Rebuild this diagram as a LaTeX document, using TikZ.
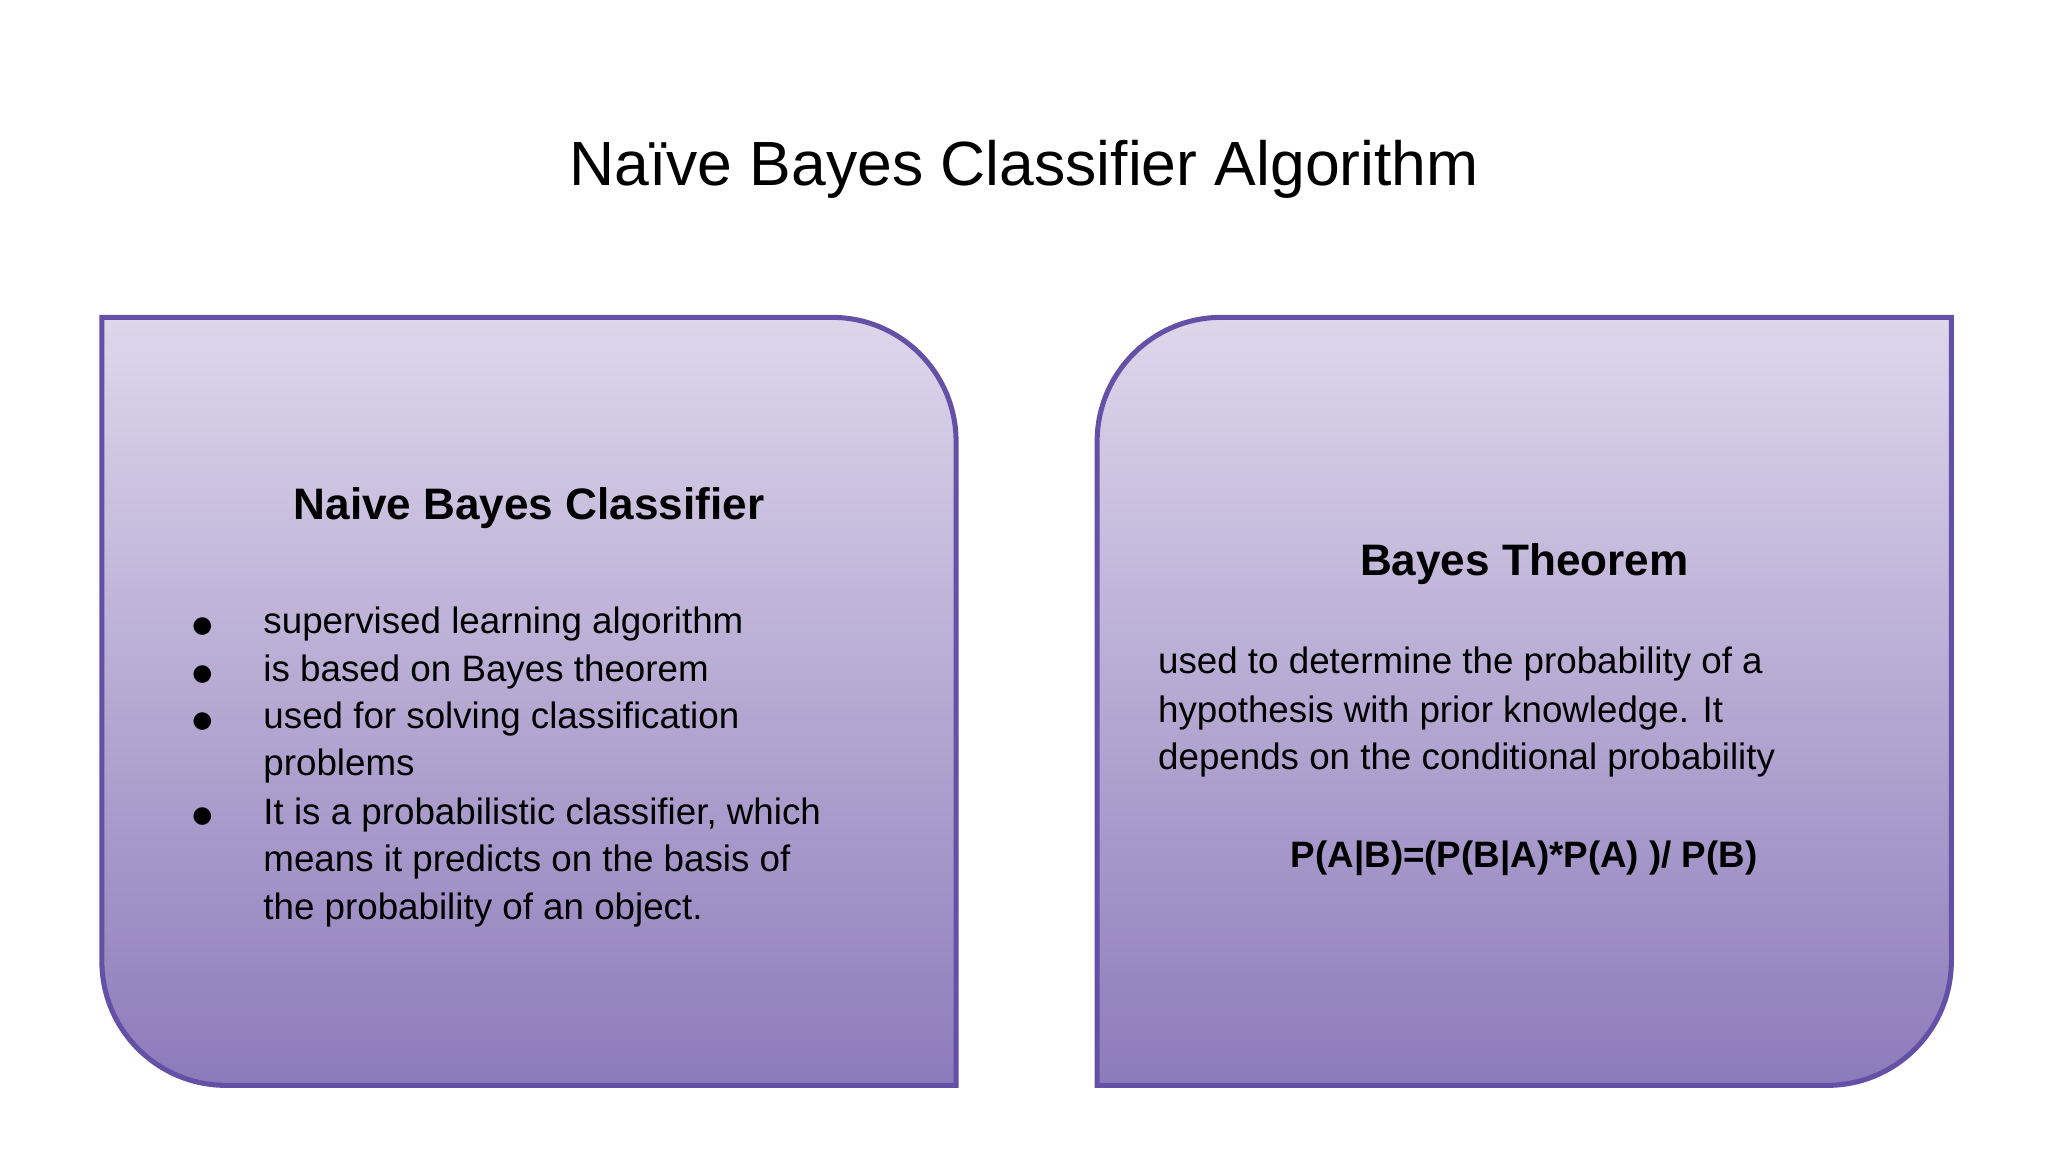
\documentclass[tikz,border=0pt]{standalone}
\usepackage{fontspec}
\setmainfont{Liberation Sans}
\newfontfamily\dejavu{DejaVu Sans}
\definecolor{topc}{HTML}{DED7EB}
\definecolor{botc}{HTML}{8C7BBA}
\definecolor{edge}{HTML}{6450A6}
\tikzset{
  card/.style={top color=topc,bottom color=botc,draw=edge,line width=1.1pt},
  body/.style={anchor=base west,inner sep=0pt,font=\fontsize{8}{10}\selectfont},
  bul/.style={anchor=base,inner sep=0pt,font=\dejavu\fontsize{5}{6}\selectfont},
  head/.style={anchor=base,inner sep=0pt,font=\bfseries\fontsize{9.6}{12}\selectfont}
}
\begin{document}
\begin{tikzpicture}[x=0.01cm,y=0.01cm]
\useasboundingbox (0,0) rectangle (1568,882);
\node[anchor=base,inner sep=0pt,font=\fontsize{13.6}{16}\selectfont] (title) at (784,740) {Naïve Bayes Classifier Algorithm};
\path[card] (78,639) -- (637,639) arc[start angle=90,end angle=0,radius=95] -- (732,51) -- (173,51) arc[start angle=270,end angle=180,radius=95] -- cycle;
\path[card] (935,639) -- (1494,639) -- (1494,146) arc[start angle=0,end angle=-90,radius=95] -- (840,51) -- (840,544) arc[start angle=180,end angle=90,radius=95] -- cycle;
\node[head] (h1) at (405,484) {Naive Bayes Classifier};
\node[bul] (b1) at (155,398) {●};
\node[bul] (b2) at (155,361) {●};
\node[bul] (b3) at (155,325) {●};
\node[bul] (b4) at (155,252) {●};
\node[body] (l1) at (201,397) {supervised learning algorithm};
\node[body] (l2) at (201,360) {is based on Bayes theorem};
\node[body] (l3) at (201,324) {used for solving classification};
\node[body] (l4) at (201,288) {problems};
\node[body] (l5) at (201,251) {It is a probabilistic classifier, which};
\node[body] (l6) at (201,215) {means it predicts on the basis of};
\node[body] (l7) at (201,178) {the probability of an object.};
\node[head] (h2) at (1167,441) {Bayes Theorem};
\node[body] (r1) at (886,366) {used to determine the probability of a};
\node[body] (r2) at (886,329) {hypothesis with prior knowledge. It};
\node[body] (r3) at (886,293) {depends on the conditional probability};
\node[anchor=base,inner sep=0pt,font=\bfseries\fontsize{8}{10}\selectfont] (f) at (1167,218) {P(A|B)=(P(B|A)*P(A) )/ P(B)};
\end{tikzpicture}
\end{document}
